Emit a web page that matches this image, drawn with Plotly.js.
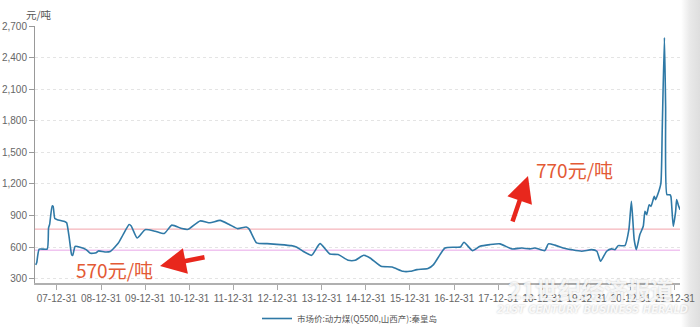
<!DOCTYPE html>
<html>
<head>
<meta charset="utf-8">
<script src="https://cdn.plot.ly/plotly-3.0.1.min.js"></script>
<style>
  html, body { margin: 0; padding: 0; }
  body {
    width: 700px; height: 327px; overflow: hidden;
    background: linear-gradient(to right, #ffffff 0px, #ffffff 681px, #e9e9e9 690px, #dedede 700px);
  }
  #chart { width: 700px; height: 327px; }
</style>
</head>
<body>
<div id="chart"></div>
<script>
// ---- data ----
const dates = [
  "2007-07-10","2007-07-18","2007-08-08","2007-10-13","2007-10-24","2007-11-02","2007-11-23","2007-12-01","2007-12-15",
  "2008-01-03","2008-03-09","2008-03-22","2008-04-12","2008-05-02","2008-05-11","2008-05-31","2008-07-11","2008-08-30",
  "2008-10-05","2008-11-21","2008-12-10","2009-02-01","2009-03-17","2009-05-22","2009-07-02","2009-08-21","2009-09-07",
  "2009-10-26","2009-12-31","2010-03-24","2010-06-07","2010-08-09","2010-10-31","2010-12-22","2011-03-30","2011-06-21",
  "2011-09-12","2011-12-03","2012-02-04","2012-04-15","2012-05-10","2012-07-10","2012-10-05","2013-01-21","2013-04-23",
  "2013-06-04","2013-07-30","2013-10-08","2013-12-17","2014-03-08","2014-05-16","2014-08-07","2014-10-04","2014-12-13",
  "2015-02-04","2015-05-06","2015-08-05","2015-11-03","2015-12-31","2016-02-27","2016-05-28","2016-07-13","2016-10-16",
  "2017-01-23","2017-02-21","2017-03-22","2017-05-31","2017-08-01","2017-10-23","2018-01-14","2018-04-23","2018-07-14",
  "2018-09-18","2018-10-29","2019-01-20","2019-02-18","2019-04-13","2019-06-20","2019-08-29","2019-11-20","2020-02-10",
  "2020-03-25","2020-04-25","2020-06-14","2020-07-25","2020-08-22","2020-09-18","2020-11-12","2020-12-15","2021-01-05",
  "2021-01-28","2021-02-15","2021-03-16","2021-04-13","2021-04-27","2021-05-11","2021-06-01","2021-06-16","2021-07-13",
  "2021-07-24","2021-08-15","2021-09-06","2021-09-17","2021-10-05","2021-10-15","2021-10-26","2021-11-20","2021-11-28",
  "2021-12-17","2022-01-06","2022-01-14","2022-01-27","2022-02-11"
];
const price = [
  430,450,580,580,780,815,990,985,870,
  860,840,830,690,528,520,605,598,575,
  540,545,563,553,558,635,718,813,800,
  686,765,750,728,808,775,768,848,830,
  853,810,775,790,770,640,632,623,613,
  601,559,521,632,534,528,474,474,521,
  496,417,410,369,369,385,395,433,591,
  597,600,645,566,607,623,630,582,591,
  582,591,566,630,618,591,575,560,575,
  560,464,560,582,575,613,613,765,1034,
  670,575,718,797,939,908,1002,986,1081,
  1050,1113,1208,1715,2590,1936,1097,1097,1081,
  797,939,1050,1002,955
];
const seriesName = "市场价:动力煤(Q5500,山西产):秦皇岛";
const yTicks = [300, 600, 900, 1200, 1500, 1800, 2100, 2400, 2700];
const xTickVals = ["2007-12-31","2008-12-31","2009-12-31","2010-12-31","2011-12-31","2012-12-31","2013-12-31",
                   "2014-12-31","2015-12-31","2016-12-31","2017-12-31","2018-12-31","2019-12-31","2020-12-31","2021-12-31"];
const xTickText = ["07-12-31","08-12-31","09-12-31","10-12-31","11-12-31","12-12-31","13-12-31",
                   "14-12-31","15-12-31","16-12-31","17-12-31","18-12-31","19-12-31","20-12-31","21-12-31"];
const refHigh = 770;
const refLow = 570;
const unitLabel = "元/吨";

// ---- layout helpers (pixel -> paper) ----
const M = {l: 35, r: 20, t: 26, b: 44, autoexpand: false};
const PW = 700 - M.l - M.r, PH = 327 - M.t - M.b;
const px = x => (x - M.l) / PW;
const py = y => (327 - M.b - y) / PH;

const FONT = '"Noto Sans CJK SC", "Noto Sans", sans-serif';
const NUMFONT = '"Liberation Sans", Arial, sans-serif';
const RED = '#e8271d';

const trace = {
  x: dates, y: price, type: 'scatter', mode: 'lines', name: seriesName,
  line: {color: '#2f79a6', width: 1.6, shape: 'spline', smoothing: 0.5},
  hoverinfo: 'x+y'
};

const layout = {
  width: 700, height: 327,
  margin: M,
  paper_bgcolor: 'rgba(0,0,0,0)', plot_bgcolor: 'rgba(0,0,0,0)',
  font: {family: FONT, size: 11, color: '#666'},
  showlegend: true,
  legend: {
    orientation: 'h', x: px(257), xanchor: 'left', y: py(304), yanchor: 'top',
    font: {family: FONT, size: 8.5, color: '#555'}, bgcolor: 'rgba(0,0,0,0)',
    itemwidth: 30
  },
  xaxis: {
    type: 'date',
    range: ['2007-07-04', '2022-02-11'],
    tickvals: xTickVals, ticktext: xTickText, tickangle: 0,
    ticks: 'outside', ticklen: 5, tickcolor: '#aaa', tickwidth: 1,
    showline: true, linecolor: '#b0b0b0', linewidth: 2,
    showgrid: false, zeroline: false,
    tickfont: {family: NUMFONT, size: 10, color: '#666'}
  },
  yaxis: {
    range: [258, 2700],
    tickvals: yTicks, tickformat: ',d',
    ticks: 'outside', ticklen: 5, tickcolor: '#999', tickwidth: 1,
    showline: true, linecolor: '#999', linewidth: 1,
    showgrid: true, gridcolor: '#e4e4e4', griddash: 'dot', gridwidth: 1,
    zeroline: false,
    tickfont: {family: NUMFONT, size: 10, color: '#666'}
  },
  shapes: [
    {type: 'line', xref: 'paper', yref: 'y', x0: 0, x1: 1, y0: refHigh, y1: refHigh,
     line: {color: '#f3a3aa', width: 1}, layer: 'below'},
    {type: 'line', xref: 'paper', yref: 'y', x0: 0, x1: 1, y0: refLow, y1: refLow,
     line: {color: '#e9a6e9', width: 1}, layer: 'below'}
  ],
  annotations: [
    {text: unitLabel, xref: 'paper', yref: 'paper', x: px(24), y: py(15), xanchor: 'left', yanchor: 'middle',
     showarrow: false, font: {family: FONT, size: 10.5, color: '#555'}},
    {text: refLow + '元/吨', xref: 'paper', yref: 'paper', x: px(74), y: py(269), xanchor: 'left', yanchor: 'middle',
     showarrow: false, font: {family: FONT, size: 19, color: '#e35a35'}},
    {text: refHigh + '元/吨', xref: 'paper', yref: 'paper', x: px(534), y: py(169), xanchor: 'left', yanchor: 'middle',
     showarrow: false, font: {family: FONT, size: 19, color: '#e35a35'}},
    // arrows
    {text: '', xref: 'paper', yref: 'paper', x: px(160), y: py(266), axref: 'paper', ayref: 'paper',
     ax: px(206), ay: py(257), showarrow: true, arrowhead: 2, arrowsize: 1.15, arrowwidth: 4.5, arrowcolor: RED},
    {text: '', xref: 'paper', yref: 'paper', x: px(528), y: py(176), axref: 'paper', ayref: 'paper',
     ax: px(512), ay: py(223), showarrow: true, arrowhead: 2, arrowsize: 1.15, arrowwidth: 4.5, arrowcolor: RED},
    // watermark
    {text: '<b>21世纪经济报道</b>', xref: 'paper', yref: 'paper', x: px(590), y: py(289), xanchor: 'center', yanchor: 'middle',
     showarrow: false, font: {family: FONT, size: 23, color: 'rgba(255,255,255,0.85)', shadow: '0px 0px 2px rgba(0,0,0,0.3)'}},
    {text: '<i><b>21ST CENTURY BUSINESS HERALD</b></i>', xref: 'paper', yref: 'paper', x: px(592), y: py(309), xanchor: 'center', yanchor: 'middle',
     showarrow: false, font: {family: '"DejaVu Sans", sans-serif', size: 10, color: 'rgba(255,255,255,0.9)', shadow: '0px 0px 2px rgba(0,0,0,0.3)'}}
  ]
};

Plotly.newPlot('chart', [trace], layout, {displayModeBar: false, staticPlot: true});
</script>
</body>
</html>
